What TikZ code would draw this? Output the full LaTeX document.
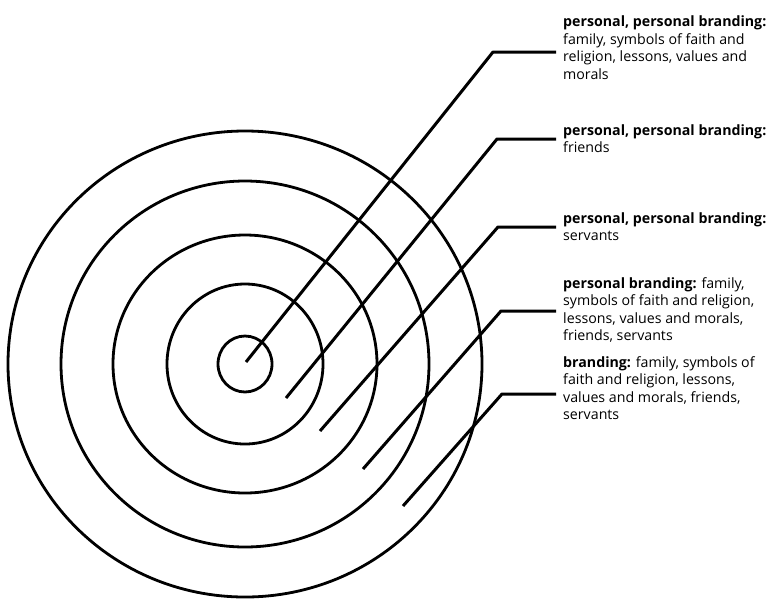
\documentclass[tikz,border=0pt]{standalone}
\usepackage{fontspec}
\setmainfont{Open Sans}
\begin{document}
\begin{tikzpicture}[x=1pt,y=-1pt,
  ring/.style={line width=2.8pt},
  leader/.style={line width=3pt, line join=round, shorten >=7pt},
  blurb/.style={anchor=base west, inner sep=0pt, align=left, font=\fontsize{14.2}{17.5}\selectfont}]
\useasboundingbox (0,0) rectangle (775,598);
\coordinate (o) at (245,364);
\draw[ring] (o) circle[x radius=27, y radius=28];
\draw[ring] (o) circle[x radius=78, y radius=80];
\draw[ring] (o) circle[x radius=132, y radius=129];
\draw[ring] (o) circle[x radius=184, y radius=183];
\draw[ring] (o) circle[x radius=237, y radius=233];

% base anchor = baseline of the last line
\node[blurb] (t1) at (563,79) {\textbf{personal, personal branding:}\\family, symbols of faith and\\religion, lessons, values and\\morals};
\node[blurb] (t2) at (563,152.5) {\textbf{personal, personal branding:}\\friends};
\node[blurb] (t3) at (563,240.5) {\textbf{personal, personal branding:}\\servants};
\node[blurb] (t4) at (563,340.5) {\textbf{personal branding:} family,\\symbols of faith and religion,\\lessons, values and morals,\\friends, servants};
\node[blurb] (t5) at (563,419.5) {\textbf{branding:} family, symbols of\\faith and religion, lessons,\\values and morals, friends,\\servants};

\coordinate (s1) at (246,362);
\coordinate (s2) at (286,398);
\coordinate (s3) at (320,431);
\coordinate (s4) at (363,469);
\coordinate (s5) at (403,506);
\coordinate (c1) at (493,52);
\coordinate (c2) at (497,139);
\coordinate (c3) at (498,227);
\coordinate (c4) at (501,311);
\coordinate (c5) at (502,394);

\draw[leader] (s1) -- (c1) -- (c1 -| t1.west);
\draw[leader] (s2) -- (c2) -- (c2 -| t2.west);
\draw[leader] (s3) -- (c3) -- (c3 -| t3.west);
\draw[leader] (s4) -- (c4) -- (c4 -| t4.west);
\draw[leader] (s5) -- (c5) -- (c5 -| t5.west);
\end{tikzpicture}
\end{document}
